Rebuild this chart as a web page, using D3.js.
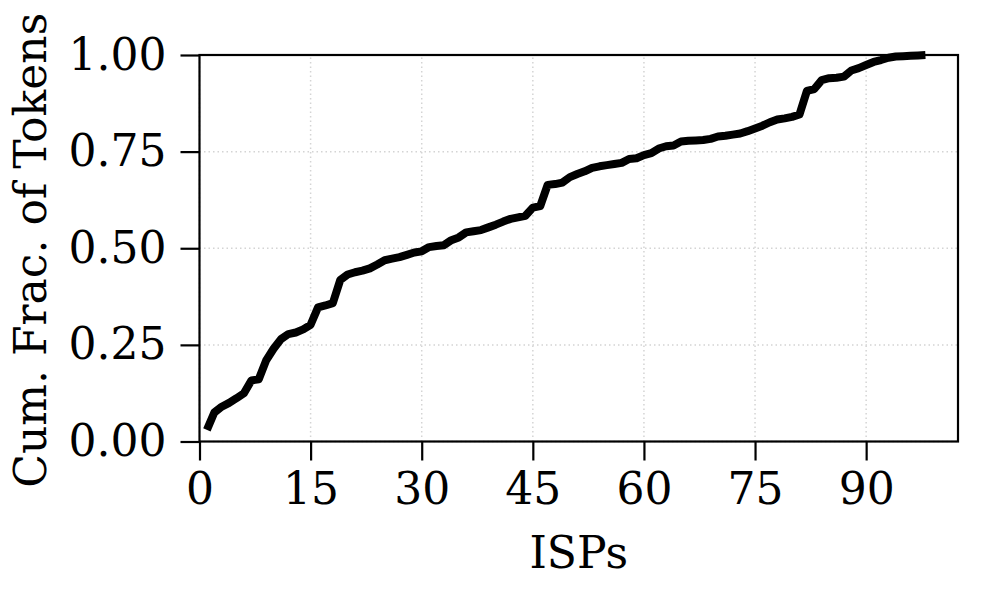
<!DOCTYPE html>
<html>
<head>
<meta charset="utf-8">
<script src="https://cdn.jsdelivr.net/npm/d3@7"></script>
<style>
  body { margin: 0; background: #fff; }
  svg text { font-family: "DejaVu Serif", serif; fill: #000; }
</style>
</head>
<body>
<div id="chart"></div>
<script>
// ISP rank (1..98)
const isps = d3.range(1, 99);

// cumulative fraction of tokens
const cumFrac = [
  0.030, 0.075, 0.090, 0.100, 0.112, 0.125, 0.158, 0.161, 0.210, 0.240,
  0.265, 0.278, 0.282, 0.290, 0.302, 0.347, 0.352, 0.358, 0.418, 0.432,
  0.438, 0.442, 0.448, 0.458, 0.469, 0.473, 0.477, 0.483, 0.489, 0.492,
  0.503, 0.506, 0.508, 0.521, 0.528, 0.541, 0.544, 0.547, 0.554, 0.561,
  0.569, 0.576, 0.580, 0.584, 0.605, 0.609, 0.664, 0.666, 0.670, 0.684,
  0.692, 0.699, 0.708, 0.712, 0.715, 0.718, 0.721, 0.731, 0.733, 0.741,
  0.746, 0.758, 0.764, 0.766, 0.776, 0.778, 0.779, 0.780, 0.783, 0.789,
  0.791, 0.794, 0.797, 0.803, 0.810, 0.817, 0.826, 0.833, 0.836, 0.840,
  0.846, 0.907, 0.912, 0.935, 0.940, 0.941, 0.944, 0.960, 0.966, 0.974,
  0.982, 0.987, 0.993, 0.996, 0.997, 0.998, 0.999, 1.000
];

const xTicks = [0, 15, 30, 45, 60, 75, 90];
const yTicks = [0, 0.25, 0.5, 0.75, 1.0];

const width = 996, height = 616;
const margin = { top: 55, right: 38, bottom: 174.5, left: 199.5 };
const fontSize = 44;

const svg = d3.select("#chart").append("svg")
    .attr("width", width)
    .attr("height", height);

const x = d3.scaleLinear()
    .domain([0, 102.4])
    .range([margin.left, width - margin.right]);

const y = d3.scaleLinear()
    .domain([0, 1])
    .range([height - margin.bottom, margin.top]);

// grid lines
svg.append("g")
    .selectAll("line.gx")
    .data(xTicks)
    .enter().append("line")
    .attr("x1", d => x(d)).attr("x2", d => x(d))
    .attr("y1", y(0)).attr("y2", y(1))
    .attr("stroke", "#d4d4d4")
    .attr("stroke-width", 1.5)
    .attr("stroke-dasharray", "1.5,3");

svg.append("g")
    .selectAll("line.gy")
    .data(yTicks)
    .enter().append("line")
    .attr("x1", x.range()[0]).attr("x2", x.range()[1])
    .attr("y1", d => y(d)).attr("y2", d => y(d))
    .attr("stroke", "#d4d4d4")
    .attr("stroke-width", 1.5)
    .attr("stroke-dasharray", "1.5,3");

// the curve
const line = d3.line()
    .x((d, i) => x(isps[i]))
    .y(d => y(d));

svg.append("path")
    .datum(cumFrac)
    .attr("fill", "none")
    .attr("stroke", "#000")
    .attr("stroke-width", 8)
    .attr("stroke-linejoin", "round")
    .attr("d", line);

// frame
svg.append("rect")
    .attr("x", x.range()[0])
    .attr("y", y.range()[1])
    .attr("width", x.range()[1] - x.range()[0])
    .attr("height", y.range()[0] - y.range()[1])
    .attr("fill", "none")
    .attr("stroke", "#000")
    .attr("stroke-width", 2.2);

// x axis
const xAxis = svg.append("g")
    .attr("transform", "translate(0," + y(0) + ")")
    .call(d3.axisBottom(x).tickValues(xTicks).tickSize(19).tickPadding(12));

// y axis
const yAxis = svg.append("g")
    .attr("transform", "translate(" + x(0) + ",0)")
    .call(d3.axisLeft(y).tickValues(yTicks).tickSize(19).tickPadding(14)
        .tickFormat(d3.format(".2f")));

[xAxis, yAxis].forEach(a => {
    a.select(".domain").remove();
    a.selectAll(".tick line").attr("stroke", "#000").attr("stroke-width", 2.2);
    a.selectAll(".tick text")
        .style("font-family", "'DejaVu Serif', serif")
        .style("font-size", fontSize + "px");
});

// axis titles
svg.append("text")
    .attr("x", (x.range()[0] + x.range()[1]) / 2)
    .attr("y", 568)
    .attr("text-anchor", "middle")
    .style("font-size", fontSize + "px")
    .text("ISPs");

svg.append("text")
    .attr("transform", "translate(46," + (y(0.5) + 2) + ") rotate(-90)")
    .attr("text-anchor", "middle")
    .style("font-size", fontSize + "px")
    .text("Cum. Frac. of Tokens");
</script>
</body>
</html>
